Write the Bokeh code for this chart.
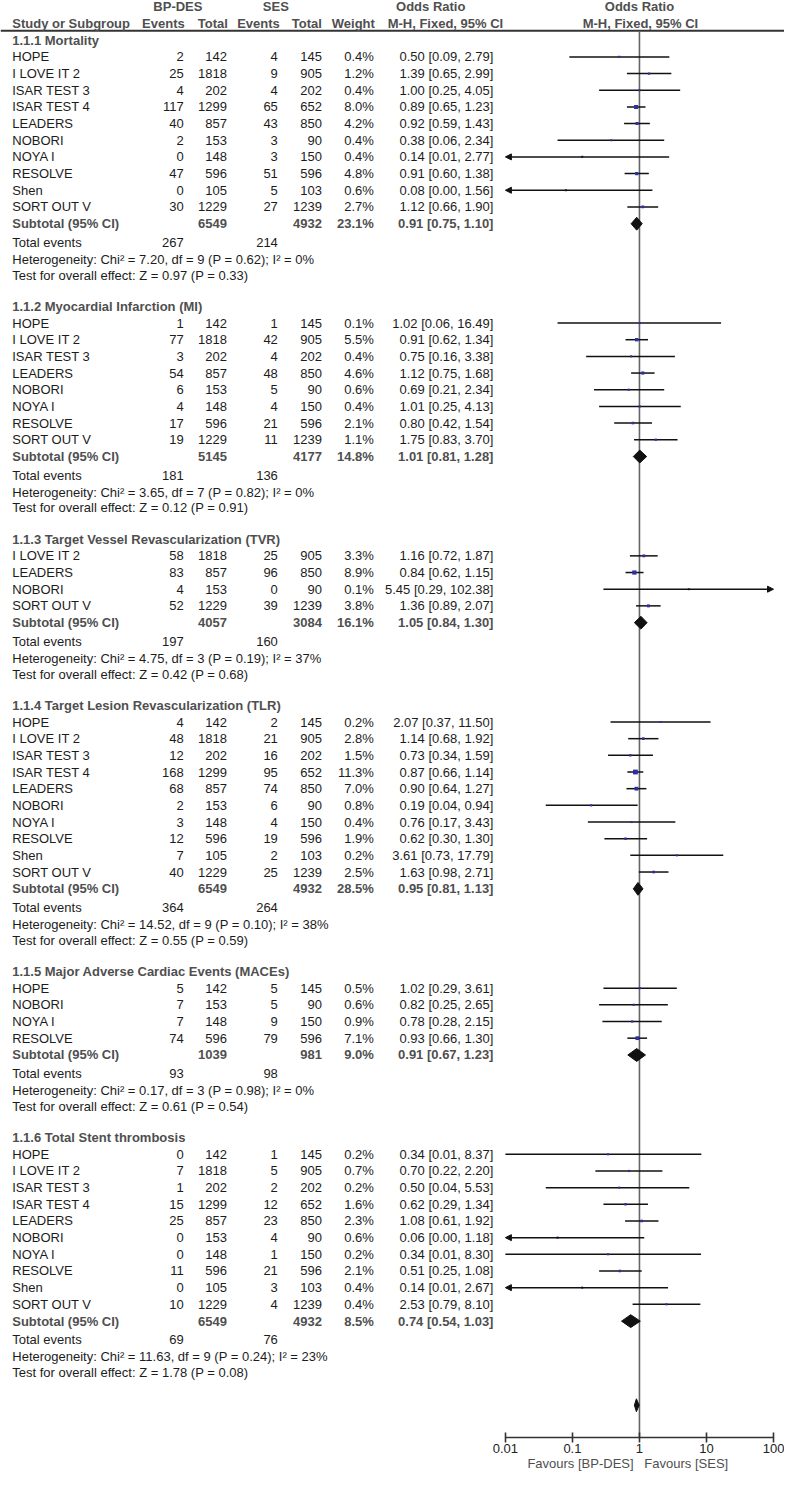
import math
from bokeh.plotting import figure
from bokeh.models import (ColumnDataSource, Range1d, LogAxis, FixedTicker, Arrow, NormalHead)
from bokeh.core.properties import value
from bokeh.embed import file_html
from bokeh.resources import INLINE

# ---------------- data ----------------
group_titles = ["1.1.1 Mortality", "1.1.2 Myocardial Infarction (MI)",
                "1.1.3 Target Vessel Revascularization (TVR)",
                "1.1.4 Target Lesion Revascularization (TLR)",
                "1.1.5 Major Adverse Cardiac Events (MACEs)",
                "1.1.6 Total Stent thrombosis"]

study_group = [0]*10 + [1]*8 + [2]*4 + [3]*10 + [4]*4 + [5]*10
study_name = [
    "HOPE", "I LOVE IT 2", "ISAR TEST 3", "ISAR TEST 4", "LEADERS", "NOBORI", "NOYA I", "RESOLVE", "Shen", "SORT OUT V",
    "HOPE", "I LOVE IT 2", "ISAR TEST 3", "LEADERS", "NOBORI", "NOYA I", "RESOLVE", "SORT OUT V",
    "I LOVE IT 2", "LEADERS", "NOBORI", "SORT OUT V",
    "HOPE", "I LOVE IT 2", "ISAR TEST 3", "ISAR TEST 4", "LEADERS", "NOBORI", "NOYA I", "RESOLVE", "Shen", "SORT OUT V",
    "HOPE", "NOBORI", "NOYA I", "RESOLVE",
    "HOPE", "I LOVE IT 2", "ISAR TEST 3", "ISAR TEST 4", "LEADERS", "NOBORI", "NOYA I", "RESOLVE", "Shen", "SORT OUT V"]
bp_events = [2, 25, 4, 117, 40, 2, 0, 47, 0, 30,
             1, 77, 3, 54, 6, 4, 17, 19,
             58, 83, 4, 52,
             4, 48, 12, 168, 68, 2, 3, 12, 7, 40,
             5, 7, 7, 74,
             0, 7, 1, 15, 25, 0, 0, 11, 0, 10]
bp_total = [142, 1818, 202, 1299, 857, 153, 148, 596, 105, 1229,
            142, 1818, 202, 857, 153, 148, 596, 1229,
            1818, 857, 153, 1229,
            142, 1818, 202, 1299, 857, 153, 148, 596, 105, 1229,
            142, 153, 148, 596,
            142, 1818, 202, 1299, 857, 153, 148, 596, 105, 1229]
ses_events = [4, 9, 4, 65, 43, 3, 3, 51, 5, 27,
              1, 42, 4, 48, 5, 4, 21, 11,
              25, 96, 0, 39,
              2, 21, 16, 95, 74, 6, 4, 19, 2, 25,
              5, 5, 9, 79,
              1, 5, 2, 12, 23, 4, 1, 21, 3, 4]
ses_total = [145, 905, 202, 652, 850, 90, 150, 596, 103, 1239,
             145, 905, 202, 850, 90, 150, 596, 1239,
             905, 850, 90, 1239,
             145, 905, 202, 652, 850, 90, 150, 596, 103, 1239,
             145, 90, 150, 596,
             145, 905, 202, 652, 850, 90, 150, 596, 103, 1239]
weight = [0.4, 1.2, 0.4, 8.0, 4.2, 0.4, 0.4, 4.8, 0.6, 2.7,
          0.1, 5.5, 0.4, 4.6, 0.6, 0.4, 2.1, 1.1,
          3.3, 8.9, 0.1, 3.8,
          0.2, 2.8, 1.5, 11.3, 7.0, 0.8, 0.4, 1.9, 0.2, 2.5,
          0.5, 0.6, 0.9, 7.1,
          0.2, 0.7, 0.2, 1.6, 2.3, 0.6, 0.2, 2.1, 0.4, 0.4]
odds = [0.50, 1.39, 1.00, 0.89, 0.92, 0.38, 0.14, 0.91, 0.08, 1.12,
        1.02, 0.91, 0.75, 1.12, 0.69, 1.01, 0.80, 1.75,
        1.16, 0.84, 5.45, 1.36,
        2.07, 1.14, 0.73, 0.87, 0.90, 0.19, 0.76, 0.62, 3.61, 1.63,
        1.02, 0.82, 0.78, 0.93,
        0.34, 0.70, 0.50, 0.62, 1.08, 0.06, 0.34, 0.51, 0.14, 2.53]
ci_lo = [0.09, 0.65, 0.25, 0.65, 0.59, 0.06, 0.01, 0.60, 0.00, 0.66,
         0.06, 0.62, 0.16, 0.75, 0.21, 0.25, 0.42, 0.83,
         0.72, 0.62, 0.29, 0.89,
         0.37, 0.68, 0.34, 0.66, 0.64, 0.04, 0.17, 0.30, 0.73, 0.98,
         0.29, 0.25, 0.28, 0.66,
         0.01, 0.22, 0.04, 0.29, 0.61, 0.00, 0.01, 0.25, 0.01, 0.79]
ci_hi = [2.79, 2.99, 4.05, 1.23, 1.43, 2.34, 2.77, 1.38, 1.56, 1.90,
         16.49, 1.34, 3.38, 1.68, 2.34, 4.13, 1.54, 3.70,
         1.87, 1.15, 102.38, 2.07,
         11.50, 1.92, 1.59, 1.14, 1.27, 0.94, 3.43, 1.30, 17.79, 2.71,
         3.61, 2.65, 2.15, 1.30,
         8.37, 2.20, 5.53, 1.34, 1.92, 1.18, 8.30, 1.08, 2.67, 8.10]

sub_bp_total = [6549, 5145, 4057, 6549, 1039, 6549]
sub_ses_total = [4932, 4177, 3084, 4932, 981, 4932]
sub_weight = [23.1, 14.8, 16.1, 28.5, 9.0, 8.5]
sub_or = [0.91, 1.01, 1.05, 0.95, 0.91, 0.74]
sub_lo = [0.75, 0.81, 0.84, 0.81, 0.67, 0.54]
sub_hi = [1.10, 1.28, 1.30, 1.13, 1.23, 1.03]
tot_bp_events = [267, 181, 197, 364, 93, 69]
tot_ses_events = [214, 136, 160, 264, 98, 76]
het_chi2 = [7.20, 3.65, 4.75, 14.52, 0.17, 11.63]
het_df = [9, 7, 3, 9, 3, 9]
het_p = [0.62, 0.82, 0.19, 0.10, 0.98, 0.24]
het_i2 = [0, 0, 37, 38, 0, 23]
z_value = [0.97, 0.12, 0.42, 0.55, 0.61, 1.78]
z_p = [0.33, 0.91, 0.68, 0.59, 0.54, 0.08]
overall = [0.90, 0.84, 0.99]   # unlabeled bottom diamond: OR, lower, upper

axis_ticks = [0.01, 0.1, 1, 10, 100]
axis_labels = ["0.01", "0.1", "1", "10", "100"]

# ---------------- layout helpers ----------------
ONE_PX, DECADE_PX = 652.0, 68.4
def X(px):
    return 10 ** ((px - ONE_PX) / DECADE_PX)

FONT = value("Liberation Sans")
FS = "13px"
DARK = "#1c1c1c"
GRAY = "#4f4f4f"

texts = {}
def add_text(x_px, y, s, align="left", bold=False, color=DARK):
    key = (align, bold, color)
    d = texts.setdefault(key, {"x": [], "y": [], "t": []})
    d["x"].append(X(x_px)); d["y"].append(y); d["t"].append(s)

p = figure(width=784, height=1471, x_axis_type="log",
           x_range=Range1d(X(0), X(800)), y_range=Range1d(1487, 0),
           x_axis_location=None, y_axis_location=None,
           toolbar_location=None, output_backend="svg",
           min_border=0, outline_line_color=None, background_fill_color="white")
p.grid.visible = False

# column positions (px, reference frame)
C_NAME, C_BPE, C_BPT, C_SE, C_ST, C_W, C_OR = 12, 187, 231, 283, 328, 381, 503

# header
add_text(181, 6, "BP-DES", "center", True, GRAY)
add_text(281, 6, "SES", "center", True, GRAY)
add_text(439, 6, "Odds Ratio", "center", True, GRAY)
add_text(652, 6, "Odds Ratio", "center", True, GRAY)
add_text(C_NAME, 23, "Study or Subgroup", "left", True, GRAY)
add_text(188, 23, "Events", "right", True, GRAY)
add_text(232, 23, "Total", "right", True, GRAY)
add_text(285, 23, "Events", "right", True, GRAY)
add_text(328, 23, "Total", "right", True, GRAY)
add_text(382, 23, "Weight", "right", True, GRAY)
add_text(454, 23, "M-H, Fixed, 95% CI", "center", True, GRAY)
add_text(653, 23, "M-H, Fixed, 95% CI", "center", True, GRAY)

seg = {"x0": [], "x1": [], "y": []}
arr = {"x0": [], "x1": [], "y": []}
sq = {"x": [], "y": [], "s": []}
dia = {"xs": [], "ys": []}
DH = 6.5

def diamond(o, lo, hi, y):
    dia["xs"].append([lo, o, hi, o])
    dia["ys"].append([y, y - DH, y, y + DH])

PITCH = 16.85
y = 40.0
for g, title in enumerate(group_titles):
    add_text(C_NAME, y, title, "left", True, GRAY)
    idx = [i for i, sg in enumerate(study_group) if sg == g]
    yy = y + 17
    for k, i in enumerate(idx):
        ys = yy + k * PITCH
        add_text(C_NAME, ys, study_name[i])
        add_text(C_BPE, ys, str(bp_events[i]), "right")
        add_text(C_BPT, ys, str(bp_total[i]), "right")
        add_text(C_SE, ys, str(ses_events[i]), "right")
        add_text(C_ST, ys, str(ses_total[i]), "right")
        add_text(C_W, ys, f"{weight[i]:.1f}%", "right")
        add_text(C_OR, ys, f"{odds[i]:.2f} [{ci_lo[i]:.2f}, {ci_hi[i]:.2f}]", "right")
        true_lo = odds[i] ** 2 / ci_hi[i]
        if true_lo < axis_ticks[0]:
            arr["x0"].append(ci_hi[i]); arr["x1"].append(axis_ticks[0]); arr["y"].append(ys)
        elif ci_hi[i] > axis_ticks[-1]:
            arr["x0"].append(ci_lo[i]); arr["x1"].append(axis_ticks[-1]); arr["y"].append(ys)
        else:
            seg["x0"].append(ci_lo[i]); seg["x1"].append(ci_hi[i]); seg["y"].append(ys)
        sq["x"].append(odds[i]); sq["y"].append(ys); sq["s"].append(2 + 0.25 * weight[i])
    last = yy + (len(idx) - 1) * PITCH
    ysub = last + 17
    add_text(C_NAME, ysub, "Subtotal (95% CI)", "left", True, GRAY)
    add_text(C_BPT, ysub, str(sub_bp_total[g]), "right", True, GRAY)
    add_text(C_ST, ysub, str(sub_ses_total[g]), "right", True, GRAY)
    add_text(C_W, ysub, f"{sub_weight[g]:.1f}%", "right", True, GRAY)
    add_text(C_OR, ysub, f"{sub_or[g]:.2f} [{sub_lo[g]:.2f}, {sub_hi[g]:.2f}]", "right", True, GRAY)
    diamond(sub_or[g], sub_lo[g], sub_hi[g], ysub)
    ytot = ysub + 19
    add_text(C_NAME, ytot, "Total events")
    add_text(C_BPE, ytot, str(tot_bp_events[g]), "right")
    add_text(C_SE, ytot, str(tot_ses_events[g]), "right")
    yhet = ytot + 17
    add_text(C_NAME, yhet, f"Heterogeneity: Chi\u00b2 = {het_chi2[g]:.2f}, df = {het_df[g]} "
                           f"(P = {het_p[g]:.2f}); I\u00b2 = {het_i2[g]}%")
    ytest = yhet + 16
    add_text(C_NAME, ytest, f"Test for overall effect: Z = {z_value[g]:.2f} (P = {z_p[g]:.2f})")
    y = ytest + 31.4

# overall diamond
diamond(overall[0], overall[1], overall[2], 1420)

AXIS_Y = 1453
# header rule and null line
p.segment(x0=[X(0)], x1=[X(800)], y0=[30.5], y1=[30.5], line_color="#333333", line_width=2)
p.segment(x0=[1], x1=[1], y0=[31], y1=[AXIS_Y], line_color="#666666", line_width=1.6)

p.segment(x0="x0", x1="x1", y0="y", y1="y", source=ColumnDataSource(seg),
          line_color="#111111", line_width=1.5)
asrc = ColumnDataSource(arr)
p.add_layout(Arrow(end=NormalHead(size=6, fill_color="#111111", line_color="#111111", line_width=1),
                   x_start="x0", y_start="y", x_end="x1", y_end="y", source=asrc,
                   line_color="#111111", line_width=1.5))
p.scatter(x="x", y="y", size="s", marker="square", source=ColumnDataSource(sq),
          fill_color="#2e2ea6", line_color=None)
p.patches(xs="xs", ys="ys", source=ColumnDataSource(dia), fill_color="#111111", line_color="#111111")

for (align, bold, color), d in texts.items():
    p.text(x="x", y="y", text="t", source=ColumnDataSource(d), text_align=align,
           text_baseline="middle", text_font=FONT, text_font_size=FS,
           text_font_style="bold" if bold else "normal", text_color=color)

# favours labels
p.text(x=[X(646)], y=[1479], text=["Favours [BP-DES]"], text_align="right", text_baseline="middle",
       text_font=FONT, text_font_size=FS, text_color=GRAY)
p.text(x=[X(657)], y=[1479], text=["Favours [SES]"], text_align="left", text_baseline="middle",
       text_font=FONT, text_font_size=FS, text_color=GRAY)

ax = LogAxis(fixed_location=AXIS_Y, bounds=(axis_ticks[0], axis_ticks[-1]),
             ticker=FixedTicker(ticks=axis_ticks),
             major_label_overrides={t: l for t, l in zip(axis_ticks, axis_labels)},
             major_tick_in=5, major_tick_out=5, minor_tick_line_color=None,
             axis_line_color="#333333", axis_line_width=1.6,
             major_tick_line_color="#333333", major_tick_line_width=1.6,
             major_label_text_font="Liberation Sans", major_label_text_font_size=FS,
             major_label_text_color="#222222", major_label_standoff=1)
p.add_layout(ax, "below")

open("out.html", "w").write(file_html(p, INLINE))
